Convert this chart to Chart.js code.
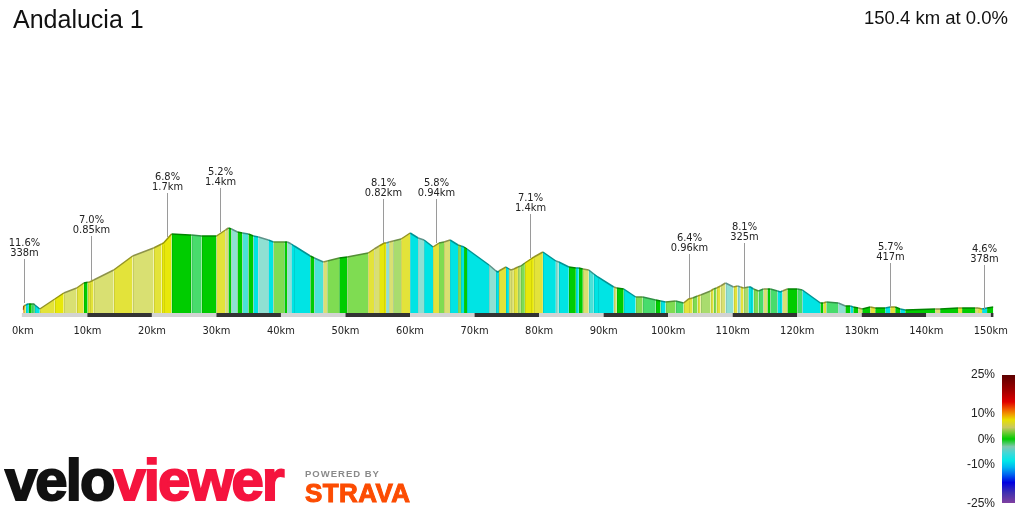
<!DOCTYPE html>
<html><head><meta charset="utf-8">
<script src="https://cdn.jsdelivr.net/npm/chart.js@4.4.1/dist/chart.umd.min.js"></script>
<style>
html,body{margin:0;padding:0;background:#fff;}
#wrap{position:relative;width:1024px;height:512px;overflow:hidden;font-family:"Liberation Sans",Arial,sans-serif;}
#c{position:absolute;left:0;top:0;}
.title{position:absolute;left:13px;top:7px;font-size:25px;line-height:1;color:#111;white-space:nowrap;}
.summary{position:absolute;right:16px;top:9px;font-size:18.5px;line-height:1;color:#111;white-space:nowrap;}
.leg{position:absolute;right:29px;font-size:12px;line-height:12px;color:#222;text-align:right;}
.bar{position:absolute;left:1002px;top:375px;width:13px;height:128px;
 background:linear-gradient(to bottom,#5c0000 0%,#a00000 12%,#e00000 21%,#f06000 27%,#f0a000 31%,#e8e000 35%,#c8c860 41%,#00cc00 50%,#80c8b0 56%,#40d8d8 61%,#00e8e8 67%,#00b8f0 72%,#0060f0 78%,#0000e0 84%,#4030b0 92%,#8040a0 100%);}
.logo{position:absolute;left:5px;top:451px;font-size:58px;line-height:1;font-weight:bold;letter-spacing:-1.9px;white-space:nowrap;}
.logo .a{color:#111;-webkit-text-stroke:2px #111;}
.logo .b{color:#f5143e;-webkit-text-stroke:2px #f5143e;}
.pw{position:absolute;left:305px;top:469px;font-size:9.5px;line-height:1;font-weight:bold;letter-spacing:1px;color:#8a8a8a;white-space:nowrap;}
.strava{position:absolute;left:305px;top:480px;font-size:26px;line-height:1;font-weight:bold;letter-spacing:0.4px;color:#fc4c02;-webkit-text-stroke:1px #fc4c02;white-space:nowrap;}
</style></head>
<body>
<div id="wrap">
<canvas id="c" width="1024" height="512"></canvas>
<div class="title">Andalucia 1</div>
<div class="summary">150.4 km at 0.0%</div>
<div class="bar"></div>
<div id="legend"></div>
<div class="logo"><span class="a">velo</span><span class="b">viewer</span></div>
<div class="pw">POWERED BY</div>
<div class="strava">STRAVA</div>
</div>
<script>
// ---- data ----
const distKm = [0,0.15,0.46,0.77,0.93,1.39,1.70,1.86,2.63,4.95,
6.34,8.35,9.44,10.05,10.36,10.98,14.08,17.01,20.26,21.50,
21.81,23.05,25.83,26.14,27.69,30.01,31.40,31.87,32.33,33.26,
34.03,34.96,35.73,36.51,38.05,38.83,40.53,40.99,41.61,42.07,
44.55,45.17,46.56,47.18,49.03,50.27,53.52,54.45,55.22,56.00,
56.31,56.77,57.39,58.62,60.02,61.25,62.18,63.57,64.50,65.27,
66.20,67.44,67.90,68.37,68.83,72.24,73.32,73.63,73.78,74.87,
75.33,75.64,76.10,76.72,77.18,77.80,78.73,79.20,80.59,82.60,
83.06,84.61,85.70,86.16,86.78,87.70,88.48,89.10,91.57,92.03,
93.12,94.97,96.06,98.07,98.84,99.61,101.16,102.40,103.17,103.79,
104.56,105.03,106.57,107.04,107.50,108.12,108.89,110.13,110.75,111.21,
111.68,112.45,112.76,113.23,114.00,114.77,115.39,115.85,116.94,117.40,
117.71,118.48,120.03,120.80,123.59,124.05,124.52,126.37,127.46,128.23,
128.69,129.47,130.08,131.32,132.09,133.64,134.42,135.19,135.96,136.74,
141.38,142.15,144.93,145.55,147.56,148.03,148.65,149.42,150.4];
const elevM = [24,56,64,72,72,72,72,64,32,112,
160,200,240,246,248,264,344,456,520,552,
560,632,624,624,616,616,664,680,672,648,
640,632,616,608,584,568,568,568,552,536,
456,440,408,416,440,448,480,512,536,560,
560,568,576,592,640,600,584,528,560,568,
584,544,536,528,512,384,336,328,336,368,
352,344,352,368,376,400,432,448,488,416,
408,368,360,360,352,344,312,288,208,200,
192,128,128,104,96,88,96,80,112,120,
136,144,176,192,200,216,240,208,216,208,
200,208,208,192,176,192,192,192,176,168,
176,192,192,184,80,80,88,80,56,56,
48,40,32,48,40,40,48,48,32,24,
32,32,40,40,40,40,32,40,48];
// gradient (%) of the segment that starts at each point
const gradePct = [11.6,4.5,-4.5,-4.5,0,-0.8,-0.8,-4.5,4.5,6.5,
2.5,4.5,0,4.5,4.5,2.5,4.5,2.5,4.5,6.5,
6.5,0,0,-0.8,0,4.5,2.5,0,-1.8,0,
-2.8,0,-4.5,-1.8,-4.5,1.0,0,-1.8,-4.5,-4.5,
0,-2.8,2.5,1.0,0,1.0,4.5,2.5,6.5,6.5,
-1.8,2.5,1.5,4.5,-4.5,-1.8,-4.5,4.5,1.0,2.5,
-4.5,1.0,-4.5,0,-4.5,-1.8,-4.5,-4.5,4.5,-4.5,
2.5,2.5,4.5,1.5,1.0,6.5,6.5,4.5,-4.5,-1.8,
-4.5,0,-4.5,0,2.5,-2.8,-4.5,-4.5,2.5,0,
-4.5,1.0,-0.8,0,-4.5,1.0,-0.8,4.5,4.5,1.0,
4.5,1.5,4.5,1.0,4.5,2.5,-1.8,4.5,-1.8,4.5,
1.5,-4.5,-4.5,1.0,-0.8,2.5,0,-0.8,-4.5,-4.5,
2.5,0,-0.8,-4.5,0,4.5,-0.8,-1.8,0,-4.5,
0,2.5,0,4.5,0,-4.5,4.5,0,-4.5,0,
2.5,0,4.5,0,2.5,4.5,-4.5,0,0];
const climbKm = [0.15,10.52,22.27,30.63,55.84,64.04,78.58,103.17,111.83,134.42,148.96];
const climbElev = [80,264,608,648,560,560,440,120,208,48,32];
const climbGrade = ['11.6%','7.0%','6.8%','5.2%','8.1%','5.8%','7.1%','6.4%','8.1%','5.7%','4.6%'];
const climbLength = ['338m','0.85km','1.7km','1.4km','0.82km','0.94km','1.4km','0.96km','325m','417m','378m'];
const totalKm = 150.4;
const legendPct = ['25%','10%','0%','-10%','-25%'];

// ---- styles ----
const legendTop = [368,407,433,458,497];
const legendEl = document.getElementById('legend');
legendPct.forEach((t,i)=>{const d=document.createElement('div');d.className='leg';d.style.top=legendTop[i]+'px';d.textContent=t;legendEl.appendChild(d);});

function gradeColour(g){
  if (g >= 9) return '#f07a1e';
  if (g >= 5.5) return '#e8e80a';
  if (g >= 3.5) return '#e3e33a';
  if (g >= 2) return '#d9e072';
  if (g >= 1.25) return '#a9dc6e';
  if (g >= 0.5) return '#7fdc52';
  if (g >= -0.4) return '#00cc00';
  if (g >= -1.2) return '#48dc6c';
  if (g >= -2.2) return '#8fe0d2';
  if (g >= -3.5) return '#4ae2d8';
  return '#00e4e4';
}
function darken(hex,f){
  const n=parseInt(hex.slice(1),16);
  const r=Math.round(((n>>16)&255)*f),g=Math.round(((n>>8)&255)*f),b=Math.round((n&255)*f);
  return 'rgb('+r+','+g+','+b+')';
}
const FONT = '"DejaVu Sans Condensed", "DejaVu Sans", sans-serif';

const stripePlugin = {
  id:'stripes',
  afterDatasetsDraw(chart){
    const {ctx, scales:{x,y}} = chart;
    ctx.save();
    ctx.strokeStyle='rgba(0,0,0,0.09)';
    ctx.lineWidth=1;
    for(let i=1;i<distKm.length-1;i++){
      const px=Math.round(x.getPixelForValue(distKm[i]))+0.5;
      ctx.beginPath();ctx.moveTo(px,y.getPixelForValue(0));ctx.lineTo(px,y.getPixelForValue(elevM[i])+1.5);ctx.stroke();
    }
    ctx.restore();
  }
};
const barPlugin = {
  id:'distbar',
  afterDraw(chart){
    const {ctx, chartArea, scales:{x}} = chart;
    ctx.save();
    for(let k=0;k<totalKm;k+=10){
      const x0=x.getPixelForValue(k)-(k===0?1:0), x1=x.getPixelForValue(Math.min(k+10,totalKm));
      ctx.fillStyle = (k/10)%2===0 ? '#d3d3d3' : '#333333';
      ctx.fillRect(x0, chartArea.bottom, x1-x0, 4);
    }
    ctx.restore();
  }
};
const climbPlugin = {
  id:'climbs',
  afterDraw(chart){
    const {ctx, scales:{x,y}} = chart;
    ctx.save();
    ctx.font = '11px ' + FONT;
    ctx.textAlign='center'; ctx.textBaseline='middle';
    climbKm.forEach((k,i)=>{
      const px=Math.round(x.getPixelForValue(k))+0.5;
      const py=y.getPixelForValue(climbElev[i]);
      ctx.strokeStyle='#9a9a9a'; ctx.lineWidth=1;
      ctx.beginPath(); ctx.moveTo(px,py-44); ctx.lineTo(px,py); ctx.stroke();
      ctx.fillStyle='#222';
      ctx.fillText(climbGrade[i], px, py-60);
      ctx.fillText(climbLength[i], px, py-49.5);
    });
    ctx.restore();
  }
};

new Chart(document.getElementById('c'), {
  type:'line',
  data:{datasets:[{
    data: distKm.map((d,i)=>({x:d,y:elevM[i]})),
    fill:'origin',
    borderWidth:1.5,
    pointRadius:0,
    tension:0,
    backgroundColor:'#00cc00',
    borderColor:'#777',
    segment:{
      backgroundColor: c => gradeColour(gradePct[c.p0DataIndex]),
      borderColor: c => darken(gradeColour(gradePct[c.p0DataIndex]),0.65)
    }
  }]},
  options:{
    responsive:false, animation:false, devicePixelRatio:1,
    layout:{padding:{left:21,right:30.6,top:100,bottom:0}},
    plugins:{legend:{display:false},tooltip:{enabled:false}},
    scales:{
      x:{type:'linear',min:0,max:totalKm,
        grid:{display:false,drawTicks:false},border:{display:false},
        ticks:{stepSize:10,includeBounds:false,autoSkip:false,maxRotation:0,padding:12,color:'#222',
          font:{family:FONT,size:11},callback:v=>v+'km'},
        afterFit:s=>{s.height=199;}},
      y:{display:false,min:0,max:1704}
    }
  },
  plugins:[stripePlugin,barPlugin,climbPlugin]
});
</script>
</body></html>
